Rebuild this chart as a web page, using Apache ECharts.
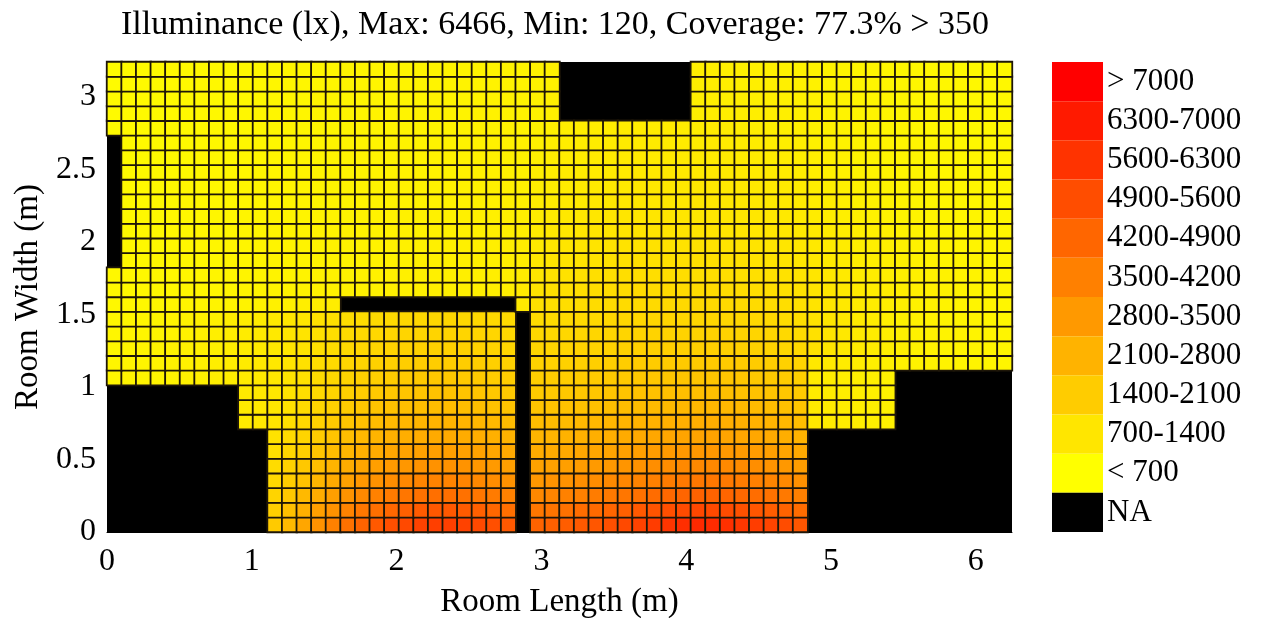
<!DOCTYPE html>
<html lang="en">
	<head>
		<meta charset="UTF-8">
		<title>Illuminance</title>
		<style>
			html, body { margin: 0; padding: 0; background: #fff; }
			#lux-map { width: 1266px; height: 618px; }
		</style>
	</head>
	<body>
		<div id="lux-map"></div>
		<script type="text/javascript" src="https://cdn.jsdelivr.net/npm/echarts@6.0.0/dist/echarts.min.js"></script>
		<script type="text/javascript">
			var _ = null; // NA cell (wall / furniture)

			// illuminance per cell (lx), rows from the window wall (y = 0) upwards, 62 columns each
			var illum = [
				[_,_,_,_,_,_,_,_,_,_,_, 1600,2100,2700,3300,3800,4300,4700,5000,5300,5500,5700,5800,5800,5700,5500,5300,5000, _, 4700,4800,4900,5000,5100,5300,5500,5700,5900,6100,6300,6466,6400,6250,6050,5850,5650,5400,5100, _,_,_,_,_,_,_,_,_,_,_,_,_,_],
				[_,_,_,_,_,_,_,_,_,_,_, 1450,1900,2400,2900,3300,3750,4100,4350,4600,4800,4950,5050,5050,4950,4800,4600,4350, _, 4100,4200,4300,4400,4500,4650,4800,5000,5150,5300,5450,5550,5500,5400,5250,5100,4900,4700,4450, _,_,_,_,_,_,_,_,_,_,_,_,_,_],
				[_,_,_,_,_,_,_,_,_,_,_, 1300,1700,2100,2500,2900,3250,3550,3800,4000,4150,4300,4350,4350,4300,4150,4000,3800, _, 3600,3700,3800,3850,3950,4050,4150,4300,4450,4550,4650,4750,4700,4650,4550,4400,4250,4050,3850, _,_,_,_,_,_,_,_,_,_,_,_,_,_],
				[_,_,_,_,_,_,_,_,_,_,_, 1150,1500,1850,2200,2550,2850,3100,3300,3450,3600,3700,3750,3750,3700,3600,3450,3300, _, 3150,3250,3300,3400,3450,3550,3650,3750,3850,3950,4050,4100,4100,4050,3950,3850,3700,3550,3350, _,_,_,_,_,_,_,_,_,_,_,_,_,_],
				[_,_,_,_,_,_,_,_,_,_,_, 1050,1350,1650,1950,2250,2500,2700,2900,3050,3150,3250,3300,3300,3250,3150,3050,2900, _, 2800,2850,2900,3000,3050,3100,3200,3300,3400,3450,3550,3600,3600,3550,3500,3400,3250,3100,2950, _,_,_,_,_,_,_,_,_,_,_,_,_,_],
				[_,_,_,_,_,_,_,_,_,_,_, 950,1200,1450,1750,2000,2200,2400,2550,2700,2800,2850,2900,2900,2850,2800,2700,2600, _, 2500,2550,2600,2650,2700,2750,2850,2900,3000,3050,3100,3150,3150,3100,3050,3000,2900,2750,2600, _,_,_,_,_,_,_,_,_,_,_,_,_,_],
				[_,_,_,_,_,_,_,_,_,_,_, 870,1080,1300,1550,1780,1950,2120,2260,2380,2460,2520,2560,2560,2520,2460,2380,2300, _, 2230,2270,2320,2370,2410,2460,2530,2590,2650,2700,2750,2780,2780,2750,2700,2650,2570,2450,2300, _,_,_,_,_,_,_,_,_,_,_,_,_,_],
				[_,_,_,_,_,_,_,_,_, 600,680, 800,980,1170,1380,1580,1740,1880,2000,2100,2170,2220,2250,2250,2220,2170,2100,2030, _, 1980,2020,2060,2100,2140,2190,2240,2290,2340,2380,2420,2450,2450,2420,2380,2330,2260,2150,1950, 650,600,560,520,490,460, _,_,_,_,_,_,_,_],
				[_,_,_,_,_,_,_,_,_, 620,700, 760,910,1080,1260,1430,1570,1690,1790,1870,1930,1970,2000,2000,1970,1930,1870,1810, _, 1770,1800,1840,1870,1910,1950,1990,2030,2070,2110,2140,2160,2160,2140,2100,2050,1990,1890,1720, 620,580,540,500,470,440, _,_,_,_,_,_,_,_],
				[_,_,_,_,_,_,_,_,_, 630,700, 730,860,1000,1160,1310,1430,1530,1620,1690,1740,1780,1800,1800,1780,1740,1690,1640, _, 1600,1630,1660,1690,1720,1760,1790,1830,1860,1890,1920,1940,1940,1920,1880,1840,1780,1690,1560, 600,560,520,490,460,430, _,_,_,_,_,_,_,_],
				[300,320,340,370,400,430,470,510,560,610,670, 700,820,940,1080,1210,1320,1410,1490,1550,1600,1630,1650,1650,1630,1600,1550,1500, _, 1470,1500,1520,1550,1580,1610,1640,1670,1700,1720,1740,1760,1760,1740,1710,1670,1620,1540,1420, 580,540,500,470,440,410, _,_,_,_,_,_,_,_],
				[290,310,330,360,390,420,460,500,550,600,650, 690,790,900,1020,1130,1230,1310,1380,1430,1470,1500,1510,1510,1500,1470,1430,1390, _, 1360,1380,1400,1430,1450,1480,1500,1530,1550,1570,1590,1600,1600,1590,1560,1530,1480,1400,1260, 680,620,570,530,490,460,430,400,380,360,340,320,300,290],
				[280,300,320,350,380,410,450,490,540,590,640, 680,770,860,960,1060,1150,1220,1280,1320,1360,1380,1390,1390,1380,1360,1320,1280, _, 1260,1280,1300,1320,1340,1360,1380,1400,1420,1440,1450,1460,1460,1450,1420,1390,1330,1250,1120, 900,770,670,590,530,490,450,420,390,370,350,330,310,290],
				[270,290,310,340,370,400,440,480,520,570,620, 660,740,820,910,1000,1080,1140,1190,1230,1260,1280,1290,1290,1280,1260,1230,1190, _, 1170,1190,1210,1230,1250,1270,1280,1300,1320,1330,1340,1350,1350,1340,1310,1280,1230,1150,1050, 920,800,700,620,560,510,470,430,400,370,350,330,310,290],
				[260,280,300,330,360,390,420,460,500,550,600, 640,710,790,870,950,1020,1070,1110,1140,1170,1190,1200,1200,1190,1170,1140,1110, _, 1100,1120,1140,1160,1170,1190,1200,1220,1230,1240,1250,1250,1250,1240,1220,1190,1140,1070,980, 870,770,680,610,550,500,460,420,390,360,340,320,300,280],
				[220,230,240,260,270,290,300,320,340,360,380,420,460,500,530,540, _,_,_,_,_,_,_,_,_,_,_,_, 650, 900,980,1010,1040,1060,1080,1100,1120,1130,1140,1150,1150,1150,1140,1120,1090,1050,990,920, 830,740,660,600,540,500,460,420,390,360,340,310,290,270],
				[200,210,220,235,250,265,280,295,310,325,340,355,370,380,390,400,410,420,430,440,450,460,470,480,490,500,515,530, 650,810,910,960,1000,1030,1050,1070,1080,1080,1080,1080,1080,1080,1070,1050,1020,980,940,880,810,740,680,620,570,530,490,470,440,410,390,370,350,330],
				[200,210,220,230,250,260,270,290,300,320,330,350,360,370,380,390,400,410,420,430,440,450,460,470,480,490,500,520, 600,750,840,890,930,960,970,990,1000,1000,1000,1000,1000,1000,990,970,950,910,870,820,750,690,630,580,530,500,460,440,410,380,370,350,330,310],
				[_,200,210,230,240,250,270,280,300,310,330,340,360,360,370,380,390,400,410,420,430,440,450,460,470,480,490,510, 570,700,780,830,860,890,910,920,930,930,930,930,930,930,920,910,880,850,810,760,700,650,590,540,500,470,440,410,390,360,350,330,310,300],
				[_,200,210,220,240,250,260,280,290,310,320,330,350,360,370,380,390,390,400,410,420,430,440,450,460,470,480,500, 530,660,740,780,810,830,850,860,870,870,870,870,870,870,860,850,830,800,760,710,660,610,560,510,470,440,410,390,370,350,330,320,300,290],
				[_,190,200,220,230,240,260,270,290,300,310,330,340,350,360,370,380,390,400,400,410,420,430,440,450,460,470,490, 500,620,690,730,750,780,790,800,810,810,810,810,810,810,800,790,770,740,710,670,620,570,520,480,440,420,390,370,350,330,310,300,290,270],
				[_,190,200,210,230,240,250,270,280,290,310,320,330,340,350,360,370,380,390,400,410,410,420,430,440,450,460,480, 470,580,640,680,710,730,740,750,760,760,760,760,760,760,750,740,720,700,660,630,580,540,490,450,420,400,370,350,330,310,300,290,270,260],
				[_,180,190,210,220,230,250,260,270,290,300,310,330,330,340,350,360,370,380,390,400,400,410,420,430,440,450,470, 450,550,610,650,670,690,700,710,720,720,720,720,720,720,710,700,680,660,630,590,550,510,470,430,400,380,350,340,320,300,290,280,260,250],
				[_,180,190,200,220,230,240,250,270,280,290,310,320,330,340,340,350,360,370,380,390,400,400,410,420,430,440,460, 430,520,580,610,640,650,660,670,680,680,680,680,680,680,670,660,650,620,600,560,520,480,440,410,380,360,340,320,300,290,280,270,250,240],
				[_,180,180,200,210,220,240,250,260,270,290,300,310,320,330,340,340,350,360,370,380,390,400,400,410,420,430,450, 410,500,550,590,610,620,630,640,650,650,650,650,650,650,640,630,620,600,570,540,500,460,430,400,370,350,330,310,290,280,270,260,250,240],
				[_,170,180,190,210,220,230,240,250,270,280,290,300,310,320,330,340,340,350,360,370,380,390,390,400,410,420,430, 400,480,530,560,580,600,610,620,620,620,620,620,620,620,620,610,590,570,550,520,480,450,410,380,360,340,320,300,290,270,260,250,240,230],
				[_,170,180,190,200,210,220,240,250,260,270,280,300,300,310,320,330,340,340,350,360,370,380,380,390,400,410,420, 380,460,510,530,550,570,580,590,590,590,590,590,590,590,590,580,560,540,520,490,460,430,390,360,340,320,300,290,270,260,250,240,230,220],
				[160,160,170,180,200,210,220,230,240,250,270,280,290,300,300,310,320,330,340,340,350,360,370,370,380,390,400,410, 360,440,480,510,520,540,550,560,560,560,560,560,560,560,560,550,530,520,490,470,440,410,380,350,330,310,290,280,270,250,240,230,220,220],
				[150,160,170,180,190,200,210,220,240,250,260,270,280,290,300,300,310,320,330,330,340,350,360,360,370,380,390,400, 350,420,460, _,_,_,_,_,_,_,_,_, 540,540,540,530,510,500,480,450,420,390,360,340,320,300,280,270,260,250,240,230,220,210],
				[140,150,160,170,190,200,210,220,230,240,250,260,270,280,290,300,300,310,320,330,330,340,350,360,360,370,380,390, 340,410,450, _,_,_,_,_,_,_,_,_, 520,520,520,510,500,480,460,440,410,380,350,330,310,290,280,260,250,240,230,220,210,210],
				[130,150,160,170,180,190,200,210,220,230,240,260,270,270,280,290,300,300,310,320,320,330,340,350,350,360,370,380, 330,390,430, _,_,_,_,_,_,_,_,_, 500,500,500,490,480,460,440,420,390,370,340,320,300,280,270,260,250,230,230,220,210,200],
				[120,140,150,160,170,190,200,210,220,230,240,250,260,270,270,280,290,290,300,310,320,320,330,340,340,350,360,370, 320,380,420, _,_,_,_,_,_,_,_,_, 480,480,480,470,460,440,430,400,380,350,330,310,290,270,260,250,240,230,220,210,200,200]
			];

			// colour bar classes, low to high
			var classLabels = ['NA', '< 700', '700-1400', '1400-2100', '2100-2800', '2800-3500', '3500-4200', '4200-4900', '4900-5600', '5600-6300', '6300-7000', '> 7000'];
			var classMin = [-1, 0, 700, 1400, 2100, 2800, 3500, 4200, 4900, 5600, 6300, 7000];
			var classMax = [0, 700, 1400, 2100, 2800, 3500, 4200, 4900, 5600, 6300, 7000, 7700];
			var classColors = ['#000000', '#ffff00', '#ffe600', '#ffcc00', '#ffb300', '#ff9900', '#ff8000', '#ff6600', '#ff4d00', '#ff3300', '#ff1a00', '#ff0000'];

			var xTicks = [0, 1, 2, 3, 4, 5, 6];
			var yTicks = [0, 0.5, 1, 1.5, 2, 2.5, 3];
			var roomLength = 6.25, roomWidth = 3.24;

			var serif = "'Liberation Serif', 'Times New Roman', serif";

			var colIdx = illum[0].map(function (v, i) { return i; });
			var rowIdx = illum.map(function (row, i) { return i; });
			var cells = [];
			illum.forEach(function (row, r) {
				row.forEach(function (v, c) {
					if (v !== null) cells.push([c, r, v]);
				});
			});
			var pieces = classLabels.map(function (lab, i) {
				return { min: classMin[i], max: classMax[i], label: lab, color: classColors[i] };
			});

			var dom = document.getElementById('lux-map');
			var myChart = echarts.init(dom, null, { renderer: 'canvas' });
			option = {
				animation: false,
				backgroundColor: '#fff',
				title: {
					text: 'Illuminance (lx), Max: 6466, Min: 120, Coverage: 77.3% > 350',
					left: 550,
					top: 3,
					textAlign: 'center',
					textStyle: { fontFamily: serif, fontSize: 34, fontWeight: 'normal', color: '#000' }
				},
				grid: {
					left: 107, right: 254, top: 62, bottom: 86,
					outerBoundsMode: 'none',
					containLabel: false,
					show: true, backgroundColor: '#000', borderWidth: 0
				},
				xAxis: [{
					type: 'category', data: colIdx, position: 'top', show: false
				}, {
					type: 'value', min: 0, max: roomLength, interval: 1, position: 'bottom',
					name: 'Room Length (m)', nameLocation: 'middle', nameGap: 54,
					nameTextStyle: { fontFamily: serif, fontSize: 33, color: '#000' },
					axisLine: { show: true, lineStyle: { color: '#000', width: 1 } },
					axisTick: { show: true, inside: true, length: 6, lineStyle: { color: '#000' }, customValues: xTicks },
					axisLabel: { fontFamily: serif, fontSize: 32, color: '#000', margin: 14, customValues: xTicks },
					splitLine: { show: false }
				}],
				yAxis: [{
					type: 'category', data: rowIdx, position: 'right', show: false
				}, {
					type: 'value', min: 0, max: roomWidth, interval: 0.5, position: 'left',
					name: 'Room Width (m)', nameLocation: 'middle', nameGap: 60, nameRotate: 90,
					nameTextStyle: { fontFamily: serif, fontSize: 33, color: '#000' },
					axisLine: { show: true, lineStyle: { color: '#000', width: 1 } },
					axisTick: { show: true, inside: true, length: 6, lineStyle: { color: '#000' }, customValues: yTicks },
					axisLabel: { fontFamily: serif, fontSize: 32, color: '#000', margin: 11, customValues: yTicks },
					splitLine: { show: false }
				}],
				visualMap: [{
					type: 'continuous',
					show: false,
					seriesIndex: 0,
					dimension: 2,
					min: 0,
					max: 7700,
					inRange: { color: ['#ffff00', '#ff0000'] }
				}, {
					type: 'piecewise',
					seriesIndex: 1,
					orient: 'vertical',
					left: 1052,
					top: 62,
					padding: 0,
					itemWidth: 51,
					itemHeight: 470 / 12,
					itemGap: 0,
					itemSymbol: 'rect',
					align: 'left',
					textGap: 4,
					selectedMode: false,
					hoverLink: false,
					pieces: pieces,
					textStyle: { fontFamily: serif, fontSize: 31, color: '#000' }
				}],
				series: [{
					name: 'Illuminance',
					type: 'heatmap',
					xAxisIndex: 0,
					yAxisIndex: 0,
					data: cells,
					progressive: 0,
					itemStyle: { borderColor: '#1e1608', borderWidth: 1.8 },
					emphasis: { disabled: true }
				}, {
					name: 'legend',
					type: 'scatter',
					xAxisIndex: 1,
					yAxisIndex: 1,
					data: []
				}]
			};
			if (option && typeof option === 'object') {
				myChart.setOption(option, true);
			}
		</script>
	</body>
</html>
